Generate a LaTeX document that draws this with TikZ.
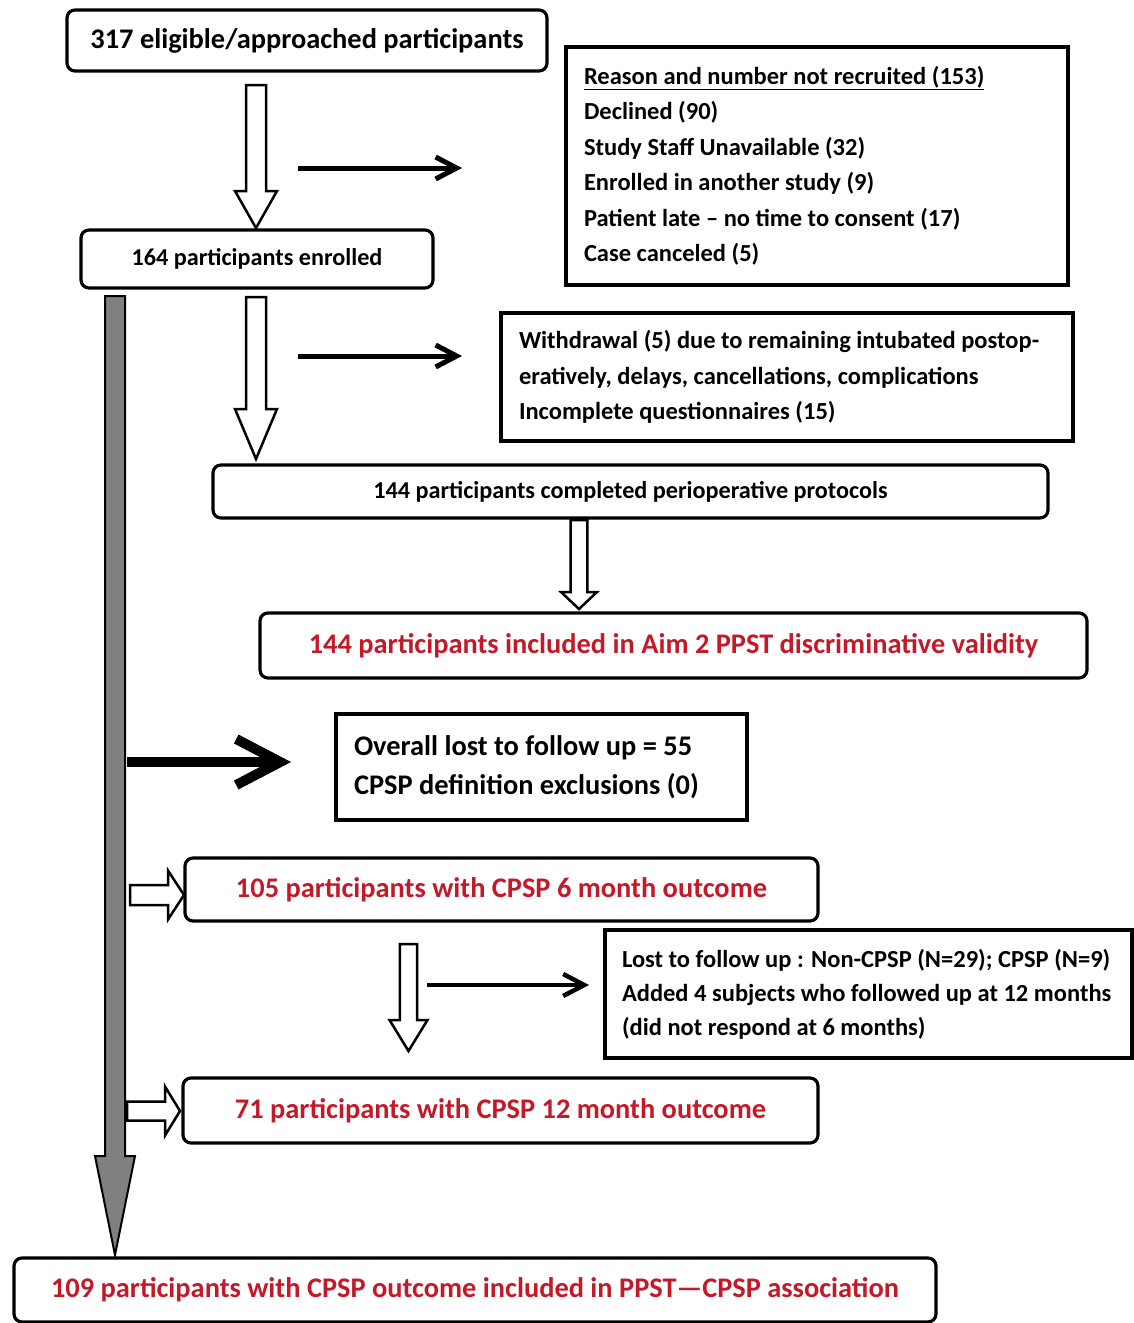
\documentclass[tikz,border=0pt]{standalone}
\usepackage{fontspec}
\setmainfont{Carlito}
\usetikzlibrary{arrows.meta,calc}
\definecolor{redtxt}{RGB}{195,25,40}
\definecolor{grayarr}{RGB}{128,128,128}
\newcommand\blkdown[5]{\draw[hollow] let \p1=(#1), \p2=(#2) in (\x1-#3pt,\y1) -- (\x1+#3pt,\y1) -- (\x1+#3pt,\y2+#5pt) -- (\x1+#4pt,\y2+#5pt) -- (\x1,\y2) -- (\x1-#4pt,\y2+#5pt) -- (\x1-#3pt,\y2+#5pt) -- cycle;}
\newcommand\blkright[5]{\draw[hollow] let \p1=(#1), \p2=(#2) in (\x1,\y1-#3pt) -- (\x1,\y1+#3pt) -- (\x2-#5pt,\y1+#3pt) -- (\x2-#5pt,\y1+#4pt) -- (\x2,\y1) -- (\x2-#5pt,\y1-#4pt) -- (\x2-#5pt,\y1-#3pt) -- cycle;}
\begin{document}
\begin{tikzpicture}[x=1pt,y=-1pt,
  rbox/.style={draw, rounded corners=8pt, line width=3.2pt, fill=white,
    font=\fontsize{28.4}{34}\selectfont\bfseries, inner sep=0pt, align=center},
  rsmall/.style={rbox, font=\fontsize{24.2}{30}\selectfont\bfseries},
  sbox/.style={draw, line width=4pt, inner xsep=18pt, inner ysep=0pt, align=left,
    font=\fontsize{24.5}{35.5}\selectfont\bfseries,
    execute at begin node={\spaceskip=0pt\xspaceskip=0pt\relax}},
  redt/.style={text=redtxt},
  hollow/.style={draw, line width=2.5pt, fill=white, line join=miter},
  blk/.style={line width=5pt, -{Straight Barb[length=21pt,width=22pt]}},
]
\useasboundingbox (0,0) rectangle (1134,1323);
\fill[white] (0,0) rectangle (1134,1323);

% boxes
\node[rbox, minimum width=480pt, minimum height=61pt] (b1) at (307,40.5) {317 eligible/approached participants};
\node[sbox, text width=466pt, minimum height=238pt] (rb) at (817,166)
  {\underline{Reason and number not recruited (153)}\\Declined (90)\\Study Staff Unavailable (32)\\Enrolled in another study (9)\\Patient late -- no time to consent (17)\\Case canceled (5)};
\node[rsmall, minimum width=352pt, minimum height=58pt] (b2) at (257,259) {164 participants enrolled};
\node[sbox, text width=536pt, minimum height=128pt] (wd) at (787,377)
  {Withdrawal (5) due to remaining intubated postop-\\eratively, delays, cancellations, complications\\Incomplete questionnaires (15)};
\node[rsmall, minimum width=835pt, minimum height=53pt] (b3) at (630.5,491.5) {144 participants completed perioperative protocols};
\node[rbox, redt, minimum width=827pt, minimum height=65pt] (b4) at (673.5,645.5) {144 participants included in Aim 2 PPST discriminative validity};
\node[sbox, font=\fontsize{28.4}{39}\selectfont\bfseries, text width=375pt, minimum height=106pt] (lost) at (541.5,767)
  {Overall lost to follow up = 55\\CPSP definition exclusions (0)};
\node[rbox, redt, minimum width=633pt, minimum height=63pt] (b5) at (501.5,889.5) {105 participants with CPSP 6 month outcome};
\node[sbox, font=\fontsize{24.5}{34}\selectfont\bfseries, inner xsep=17pt, text width=493pt, minimum height=128pt] (lost2) at (868.5,994)
  {Lost to follow up : Non-CPSP (N=29); CPSP (N=9)\\Added 4 subjects who followed up at 12 months\\(did not respond at 6 months)};
\node[rbox, redt, minimum width=635pt, minimum height=65pt] (b6) at (500.5,1110.5) {71 participants with CPSP 12 month outcome};
\node[rbox, redt, minimum width=922pt, minimum height=64pt] (b7) at (475,1290) {109 participants with CPSP outcome included in PPST---CPSP association};

% arrow end points
\coordinate (a1s) at (256,85);   \coordinate (a1e) at (256,228);
\coordinate (a2s) at (256,297);  \coordinate (a2e) at (256,459);
\coordinate (a3s) at (579,520);  \coordinate (a3e) at (579,609);
\coordinate (a4s) at (408.5,944); \coordinate (a4e) at (408.5,1051);
\coordinate (gs) at (115,296);   \coordinate (ge) at (115,1255);
\coordinate (s5s) at (130,895);  \coordinate (s5e) at (184,895);
\coordinate (s6s) at (127,1111); \coordinate (s6e) at (180,1111);
\coordinate (r1s) at (298,168);  \coordinate (r1e) at (462,168);
\coordinate (r2s) at (298,356);  \coordinate (r2e) at (462,356);
\coordinate (r3s) at (127,762);  \coordinate (r3e) at (291,762);
\coordinate (r4s) at (427,985);  \coordinate (r4e) at (589,985);

% hollow block arrows
\blkdown{a1s}{a1e}{10}{21}{37}
\blkdown{a2s}{a2e}{10}{21}{50}
\blkdown{a3s}{a3e}{8.3}{18}{17}
\blkdown{a4s}{a4e}{8.6}{19}{31}
\begin{scope}[hollow/.append style={fill=grayarr, line width=2pt}]
\blkdown{gs}{ge}{10}{20}{99}
\end{scope}
\blkright{s5s}{s5e}{10}{24.5}{16}
\blkright{s6s}{s6e}{9.5}{24.5}{15}

% black arrows
\draw[blk] (r1s) -- (r1e);
\draw[blk] (r2s) -- (r2e);
\draw[line width=10pt, -{Straight Barb[length=44pt,width=46pt]}] (r3s) -- (r3e);
\draw[blk, line width=4.5pt] (r4s) -- (r4e);
\end{tikzpicture}
\end{document}
